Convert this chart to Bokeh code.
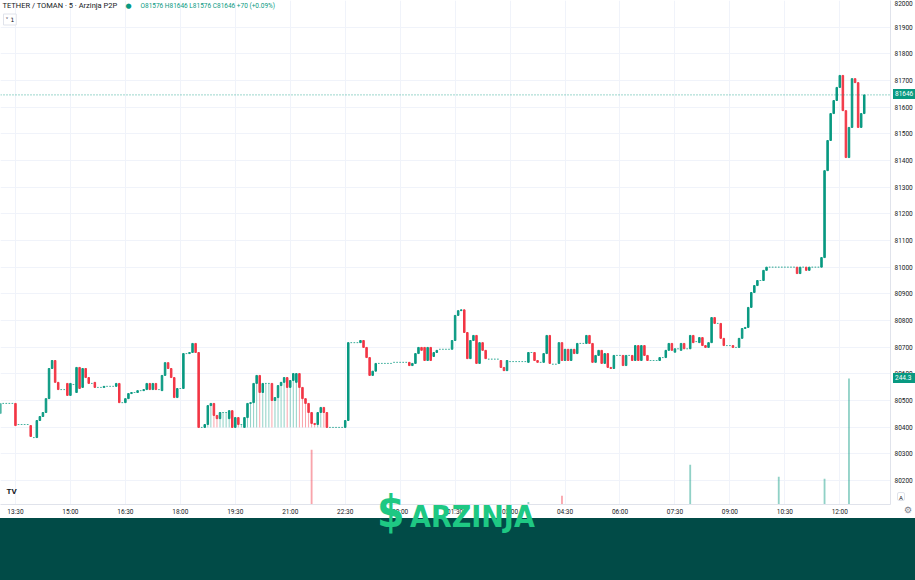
from bokeh.plotting import figure
from bokeh.models import Range1d, FixedTicker, Label, Span, ColumnDataSource, Div
from bokeh.layouts import column
from bokeh.embed import file_html
from bokeh.resources import INLINE

# ---------------- data (5-minute candles, TETHER / TOMAN) ----------------
opens = [
    80451, 80489, 80489, 80489, 80489, 80489, 80410, 80410, 80410, 80410,
    80406, 80361, 80361, 80425, 80440, 80455, 80507, 80620, 80650, 80568,
    80541, 80541, 80564, 80519, 80560, 80530, 80624, 80549, 80620, 80586,
    80564, 80568, 80549, 80549, 80549, 80553, 80553, 80553, 80553, 80564,
    80492, 80492, 80507, 80526, 80530, 80530, 80537, 80537, 80541, 80564,
    80541, 80564, 80541, 80537, 80594, 80642, 80620, 80586, 80511, 80545,
    80545, 80676, 80676, 80680, 80714, 80680, 80399, 80399, 80410, 80481,
    80489, 80444, 80432, 80455, 80455, 80432, 80462, 80399, 80436, 80410,
    80399, 80436, 80489, 80492, 80564, 80594, 80530, 80564, 80564, 80564,
    80500, 80511, 80556, 80568, 80586, 80549, 80575, 80568, 80601, 80549,
    80507, 80489, 80455, 80414, 80410, 80455, 80474, 80455, 80399, 80399,
    80399, 80399, 80399, 80399, 80425, 80717, 80717, 80717, 80717, 80725,
    80699, 80661, 80594, 80610, 80639, 80639, 80639, 80639, 80639, 80643,
    80643, 80643, 80643, 80643, 80643, 80631, 80639, 80676, 80699, 80699,
    80650, 80699, 80665, 80680, 80692, 80692, 80692, 80692, 80692, 80725,
    80819, 80837, 80840, 80755, 80657, 80725, 80744, 80639, 80717, 80688,
    80655, 80655, 80655, 80655, 80650, 80624, 80612, 80646, 80646, 80646,
    80646, 80646, 80646, 80643, 80680, 80680, 80650, 80643, 80643, 80676,
    80744, 80636, 80636, 80639, 80717, 80650, 80692, 80650, 80692, 80676,
    80714, 80714, 80714, 80744, 80714, 80643, 80669, 80688, 80639, 80676,
    80624, 80620, 80669, 80669, 80669, 80631, 80669, 80669, 80650, 80706,
    80650, 80706, 80669, 80650, 80650, 80650, 80650, 80661, 80661, 80688,
    80714, 80681, 80694, 80688, 80714, 80694, 80694, 80744, 80721, 80717,
    80736, 80706, 80699, 80717, 80811, 80789, 80789, 80733, 80706, 80706,
    80706, 80699, 80699, 80733, 80770, 80774, 80849, 80905, 80931, 80950,
    80950, 80988, 81000, 81000, 81000, 81000, 81000, 81000, 81000, 81000,
    81000, 81000, 80976, 81000, 81000, 80988, 81000, 81000, 81000, 81000,
    81036, 81362, 81475, 81576, 81625, 81674, 81719, 81587, 81411, 81524,
    81707, 81692, 81524, 81576,
]
closes = [
    80489, 80489, 80489, 80489, 80489, 80406, 80410, 80410, 80410, 80410,
    80365, 80361, 80425, 80440, 80455, 80507, 80620, 80650, 80568, 80541,
    80541, 80541, 80519, 80564, 80560, 80624, 80545, 80620, 80586, 80564,
    80564, 80549, 80549, 80549, 80553, 80553, 80553, 80553, 80564, 80492,
    80492, 80507, 80526, 80530, 80530, 80537, 80537, 80541, 80564, 80541,
    80564, 80541, 80541, 80594, 80642, 80620, 80586, 80511, 80545, 80545,
    80676, 80676, 80680, 80714, 80680, 80399, 80399, 80410, 80481, 80489,
    80444, 80432, 80455, 80455, 80455, 80462, 80399, 80436, 80410, 80410,
    80436, 80489, 80492, 80564, 80594, 80530, 80564, 80564, 80564, 80500,
    80511, 80556, 80568, 80586, 80549, 80575, 80601, 80601, 80549, 80507,
    80489, 80455, 80414, 80410, 80455, 80474, 80455, 80399, 80399, 80399,
    80399, 80399, 80399, 80425, 80717, 80717, 80717, 80717, 80725, 80699,
    80661, 80594, 80610, 80639, 80639, 80639, 80639, 80639, 80639, 80643,
    80643, 80643, 80643, 80643, 80631, 80639, 80676, 80699, 80688, 80650,
    80699, 80650, 80680, 80688, 80692, 80692, 80692, 80692, 80725, 80819,
    80837, 80840, 80755, 80657, 80725, 80744, 80639, 80717, 80688, 80657,
    80655, 80655, 80655, 80655, 80624, 80612, 80650, 80646, 80646, 80646,
    80646, 80646, 80646, 80680, 80680, 80650, 80643, 80643, 80676, 80744,
    80639, 80636, 80636, 80717, 80650, 80692, 80650, 80692, 80676, 80714,
    80714, 80714, 80744, 80714, 80643, 80669, 80688, 80639, 80676, 80624,
    80620, 80669, 80669, 80669, 80631, 80669, 80669, 80650, 80706, 80650,
    80706, 80669, 80650, 80650, 80650, 80650, 80661, 80661, 80688, 80714,
    80688, 80694, 80694, 80714, 80694, 80694, 80744, 80717, 80721, 80736,
    80706, 80699, 80717, 80811, 80789, 80789, 80733, 80706, 80706, 80706,
    80699, 80699, 80733, 80770, 80774, 80849, 80905, 80931, 80950, 80950,
    80988, 81000, 81000, 81000, 81000, 81000, 81000, 81000, 81000, 81000,
    81000, 80976, 81000, 81000, 80988, 81000, 81000, 81000, 81000, 81036,
    81362, 81475, 81576, 81625, 81674, 81719, 81587, 81411, 81524, 81707,
    81692, 81524, 81576, 81646,
]
# lower wicks reaching the 80400 floor (candles 68 .. 107)
wick_start = 68
wick_lows = [
    80399, 80399, 80399, 80399, 80399, 80399, 80399, 80399, 80399, 80399,
    80399, 80399, 80399, 80399, 80399, 80399, 80399, 80399, 80399, 80399,
    80399, 80399, 80399, 80399, 80399, 80399, 80399, 80399, 80399, 80399,
    80399, 80399, 80399, 80399, 80399, 80399, 80399, 80399, 80399, 80399,
]
vol_index = [102, 173, 184, 226, 255, 270, 278]
vol_values = [106, 5, 17, 77, 54, 50, 244.3]

tick_index = [5, 23, 41, 59, 77, 95, 113, 131, 149, 167, 185, 203, 221, 239, 257, 275, 293]
tick_labels = ["13:30", "15:00", "16:30", "18:00", "19:30", "21:00", "22:30", "00:00",
               "01:30", "03:00", "04:30", "06:00", "07:30", "09:00", "10:30", "12:00", "13:30"]
price_ticks = [80200, 80300, 80400, 80500, 80600, 80700, 80800, 80900, 81000,
               81100, 81200, 81300, 81400, 81500, 81600, 81700, 81800, 81900, 82000]

last_price = 81646
last_volume = 244.3
title_text = "TETHER / TOMAN · 5 · Arzinja P2P"
ohlc_text = "O81576 H81646 L81576 C81646 +70 (+0.09%)"
brand_text = "ARZINJA"

# ---------------- styling ----------------
UP = "#089981"
DOWN = "#f23645"
TXT = "#131722"
GRID = "#f0f3fa"
FONT = "Roboto"
BRAND_BG = "#014b47"
BRAND_FG = "#1ec883"

W, H = 915, 580
CHART_H = 518
BORDER_B = 14
BORDER_R = 24
FRAME_W = W - BORDER_R
FRAME_H = CHART_H - BORDER_B

X_START, X_END = 0.1, 291.6
Y_START, Y_END = 80110, 82000
VOL_TOP = 977

n = len(opens)
xs = list(range(n))
tops = [max(o, c) for o, c in zip(opens, closes)]
bots = [min(o, c) for o, c in zip(opens, closes)]
cols = [UP if c > o else (DOWN if c < o else UP) for o, c in zip(opens, closes)]
alph = [1.0 if c != o else 0.5 for o, c in zip(opens, closes)]

lows = list(bots)
for k, lv in enumerate(wick_lows):
    j = wick_start + k
    lows[j] = min(lows[j], lv)
wx = [i for i in xs if lows[i] < bots[i]]
wick_src = ColumnDataSource(dict(x=wx, y0=[lows[i] for i in wx], y1=[bots[i] for i in wx],
                                 c=[cols[i] for i in wx]))
candle_src = ColumnDataSource(dict(x=xs, top=tops, bottom=bots, c=cols, a=alph))
vol_src = ColumnDataSource(dict(x=vol_index, top=vol_values,
                                c=[cols[i] for i in vol_index]))

p = figure(width=W, height=CHART_H,
           x_range=Range1d(X_START, X_END), y_range=Range1d(Y_START, Y_END),
           y_axis_location="right", toolbar_location=None, output_backend="svg",
           min_border_left=0, min_border_top=0, min_border_right=BORDER_R,
           min_border_bottom=BORDER_B,
           outline_line_color=None, background_fill_color="white",
           border_fill_color="white")
p.extra_y_ranges = {"vol": Range1d(0, VOL_TOP)}

# grid
p.xgrid.ticker = FixedTicker(ticks=tick_index)
p.ygrid.ticker = FixedTicker(ticks=price_ticks)
p.grid.grid_line_color = GRID
p.grid.grid_line_width = 1

# axes
p.yaxis.ticker = FixedTicker(ticks=price_ticks)
p.xaxis.ticker = FixedTicker(ticks=tick_index)
p.xaxis.major_label_overrides = {t: l for t, l in zip(tick_index, tick_labels)}
for ax in (p.xaxis, p.yaxis):
    ax.axis_line_color = "#e0e3eb"
    ax.major_tick_line_color = None
    ax.minor_tick_line_color = None
    ax.major_tick_out = 0
    ax.major_tick_in = 0
    ax.minor_tick_out = 0
    ax.minor_tick_in = 0
    ax.major_label_text_font = FONT
    ax.major_label_text_font_size = "6.5px"
    ax.major_label_text_color = TXT
p.xaxis.major_label_standoff = 3
p.yaxis.major_label_standoff = 4

# volume
p.vbar(x="x", top="top", bottom=0, width=0.6, y_range_name="vol", source=vol_src,
       fill_color="c", fill_alpha=0.45, line_color=None)

# wicks and candles
p.segment(x0="x", y0="y0", x1="x", y1="y1", source=wick_src, line_color="c",
          line_alpha=0.45, line_width=1)
p.vbar(x="x", top="top", bottom="bottom", width=0.5, source=candle_src,
       fill_color="c", line_color="c", fill_alpha="a", line_alpha="a", line_width=1)

# last price line
p.add_layout(Span(location=last_price, dimension="width", line_color=UP,
                  line_dash="1 2", line_width=1, line_alpha=0.8))

# header legend
p.add_layout(Label(x=X_START, y=Y_END, x_offset=2, y_offset=-5, text=title_text,
                   text_font=FONT, text_font_size="7.5px", text_color=TXT,
                   text_baseline="middle"))
p.add_layout(Label(x=X_START, y=Y_END, x_offset=125, y_offset=-5, text="●",
                   text_font="DejaVu Sans", text_font_size="7px", text_color=UP,
                   text_baseline="middle"))
p.add_layout(Label(x=X_START, y=Y_END, x_offset=140, y_offset=-5, text=ohlc_text,
                   text_font=FONT, text_font_size="6.5px", text_color=UP,
                   text_baseline="middle"))
p.add_layout(Label(x=X_START, y=Y_END, x_offset=3, y_offset=-19, text="˅ 1",
                   text_font="DejaVu Sans", text_font_size="6px", text_color=TXT,
                   text_baseline="middle", border_line_color="#e0e3eb",
                   background_fill_color="white", padding=2))
p.add_layout(Label(x=X_START, y=Y_START, x_offset=6, y_offset=13, text="TV",
                   text_font=FONT, text_font_style="bold", text_font_size="8px",
                   text_color=TXT, text_baseline="middle"))

# ---------------- overlay: axis tags + brand banner ----------------
def price_px(v):
    return (Y_END - v) / (Y_END - Y_START) * FRAME_H

def vol_px(v):
    return FRAME_H - v / VOL_TOP * FRAME_H

def tag(top_center, text):
    return ('<div style="position:absolute;left:%dpx;top:%.1fpx;height:10px;width:30px;'
            'background:%s;color:white;font:6.5px %s;line-height:10px;padding-left:2px;">%s</div>'
            % (FRAME_W + 2, top_center - 5, UP, FONT, text))

html = (
    '<div style="position:relative;width:%dpx;height:%dpx;pointer-events:none;">' % (W, H)
    + tag(price_px(last_price), str(last_price))
    + tag(vol_px(last_volume), str(last_volume))
    + '<div style="position:absolute;left:%dpx;top:%dpx;width:8px;height:9px;border:1px solid #e0e3eb;'
      'border-radius:2px;font:6px %s;color:%s;text-align:center;line-height:9px;background:white;">A</div>'
      % (FRAME_W + 6, FRAME_H - 12, FONT, TXT)
    + '<div style="position:absolute;left:%dpx;top:%dpx;font:9px \'DejaVu Sans\';color:#787b86;'
      'line-height:1;">⚙</div>' % (FRAME_W + 13, FRAME_H + 2)
    + '<div style="position:absolute;left:0;top:%dpx;width:%dpx;height:%dpx;background:%s;"></div>'
      % (CHART_H, W, H - CHART_H, BRAND_BG)
    + '<div style="position:absolute;left:377px;top:490px;font:bold 44px \'DejaVu Sans Condensed\';'
      'line-height:1;color:%s;">$</div>' % BRAND_FG
    + '<div style="position:absolute;left:410px;top:502px;font:bold 30px \'DejaVu Sans Condensed\';'
      'line-height:1;color:%s;">%s</div>' % (BRAND_FG, brand_text)
    + '</div>'
)
overlay = Div(text=html, width=W, height=H, margin=(-CHART_H, 0, 0, 0))

layout = column(p, overlay, spacing=0)
open("out.html", "w").write(file_html(layout, INLINE))
